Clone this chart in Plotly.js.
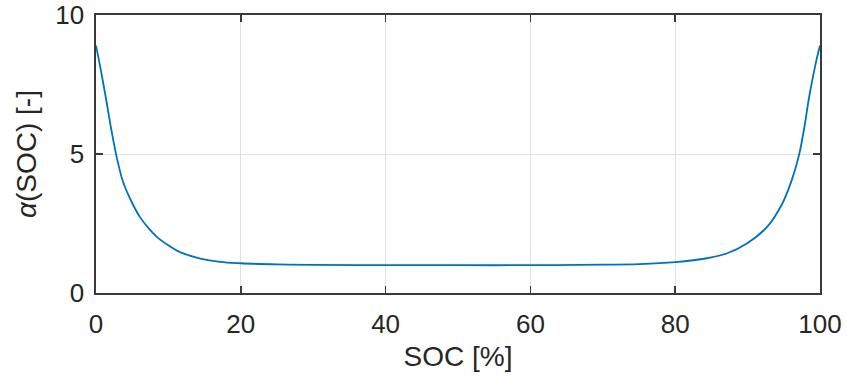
<!DOCTYPE html>
<html>
<head>
<meta charset="utf-8">
<script src="https://cdn.plot.ly/plotly-3.0.1.min.js"></script>
<style>
  html, body { margin: 0; padding: 0; background: #ffffff; }
  #chart { width: 847px; height: 383px; }
</style>
</head>
<body>
<div id="chart"></div>
<script>
// State of charge [%] and the weighting factor alpha(SOC) [-]
const soc = [0, 0.5, 1.34, 2.1, 2.8, 3.73, 4.88, 6.1, 7.2, 8.4, 10.2, 11.6, 14.4, 17.1, 20, 25, 30, 40, 50,
             60, 70, 75, 80, 84.4, 87.2, 89.9, 92.7, 94.8, 96.1, 97.1, 97.8, 98.5, 99.4, 100];
const alpha = [8.9, 8.25, 7.05, 5.9, 4.96, 4.0, 3.3, 2.72, 2.35, 2.02, 1.68, 1.47, 1.24, 1.12, 1.07, 1.03, 1.01, 1.0, 1.0,
               1.0, 1.02, 1.04, 1.11, 1.25, 1.43, 1.78, 2.38, 3.22, 4.06, 4.96, 5.9, 7.05, 8.25, 8.9];

const xTicks = [0, 20, 40, 60, 80, 100];
const yTicks = [0, 5, 10];

const axisColor = '#3a3a3a';
const textColor = '#262626';
const gridColor = '#e1e1e1';
const fontFamily = 'Liberation Sans, Arial, sans-serif';

const trace = {
  x: soc,
  y: alpha,
  type: 'scatter',
  mode: 'lines',
  line: { color: '#0072BD', width: 1.8, shape: 'spline', smoothing: 1 },
  hoverinfo: 'skip'
};

const commonAxis = {
  showline: true,
  linecolor: axisColor,
  linewidth: 1.6,
  mirror: 'ticks',
  ticks: 'inside',
  ticklen: 7,
  tickwidth: 1.6,
  tickcolor: axisColor,
  showgrid: true,
  gridcolor: gridColor,
  gridwidth: 1,
  zeroline: false,
  tickfont: { family: fontFamily, size: 26, color: textColor },
  fixedrange: true
};

const layout = {
  width: 847,
  height: 383,
  margin: { l: 96, r: 27, t: 15, b: 90 },
  paper_bgcolor: '#ffffff',
  plot_bgcolor: '#ffffff',
  showlegend: false,
  xaxis: Object.assign({}, commonAxis, {
    range: [0, 100],
    tickvals: xTicks,
    ticktext: xTicks.map(String),
    ticklabelstandoff: 7,
    title: { text: 'SOC [%]', font: { family: fontFamily, size: 28, color: textColor }, standoff: 8 }
  }),
  yaxis: Object.assign({}, commonAxis, {
    range: [0, 10],
    tickvals: yTicks,
    ticktext: yTicks.map(String),
    ticklabelstandoff: 5,
    title: { text: '<i>α</i>(SOC) [-]', font: { family: fontFamily, size: 28, color: textColor }, standoff: 10 }
  })
};

Plotly.newPlot('chart', [trace], layout, { displayModeBar: false, staticPlot: true });
</script>
</body>
</html>
